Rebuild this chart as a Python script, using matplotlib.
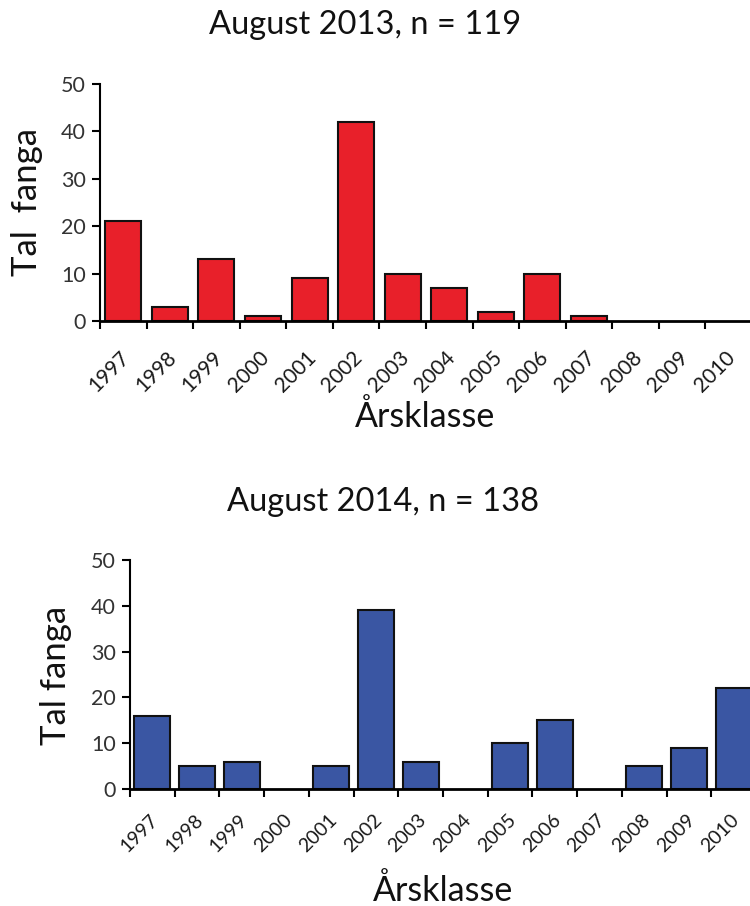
import matplotlib
matplotlib.use("Agg")
import matplotlib.pyplot as plt
import matplotlib.transforms as mtransforms
import numpy as np

plt.rcParams['font.family'] = ['Lato', 'DejaVu Sans']

years = ['1997', '1998', '1999', '2000', '2001', '2002', '2003',
         '2004', '2005', '2006', '2007', '2008', '2009', '2010']
counts_2013 = [21, 3, 13, 1, 9, 42, 10, 7, 2, 10, 1, 0, 0, 0]
counts_2014 = [16, 5, 6, 0, 5, 39, 6, 0, 10, 15, 0, 5, 9, 22]
title_2013 = 'August 2013, n = 119'
title_2014 = 'August 2014, n = 138'
ylabel_2013 = 'Tal  fanga'
ylabel_2014 = 'Tal fanga'
xlabel = 'Årsklasse'
yticks = [0, 10, 20, 30, 40, 50]

W, H = 750, 906
fig = plt.figure(figsize=(W / 100, H / 100), dpi=100)

def px_axes(x0, x1, ytop, ybot):
    return fig.add_axes([x0 / W, 1 - ybot / H, (x1 - x0) / W, (ybot - ytop) / H])

def draw(ax, values, color, width, pad, fs, dx):
    x = np.arange(len(years))
    bars = ax.bar(x, values, width=width, color=color, edgecolor='#111111',
                  linewidth=1.5, zorder=3)
    for b, v in zip(bars, values):
        if v == 0:
            b.set_visible(False)
    ax.set_xlim(-0.5, len(years) - 0.5)
    ax.set_ylim(0, 50)
    ax.set_yticks(yticks)
    ax.set_yticklabels([str(v) for v in yticks], fontsize=15.5, color='#333333')
    ax.set_xticks(x)
    ax.set_xticklabels(years, rotation=45, ha='right', rotation_mode='anchor',
                       fontsize=fs, color='#1a1a1a')
    ax.tick_params(axis='x', which='major', length=0, pad=pad)
    ax.set_xticks(np.arange(-0.5, len(years) + 0.5, 1), minor=True)
    ax.tick_params(axis='x', which='minor', length=6, width=1.5, direction='out')
    ax.tick_params(axis='y', length=6, width=1.5, direction='out', pad=4)
    off = mtransforms.ScaledTranslation(dx / 100, 0, fig.dpi_scale_trans)
    for lab in ax.get_xticklabels():
        lab.set_transform(lab.get_transform() + off)
    for s in ['top', 'right']:
        ax.spines[s].set_visible(False)
    ax.spines['left'].set_linewidth(1.5)
    ax.spines['bottom'].set_linewidth(2.0)
    ax.spines['bottom'].set_zorder(4)

ax1 = px_axes(100, 752, 84, 321)
draw(ax1, counts_2013, '#E8202A', 0.77, 19, 15, -4)
ax2 = px_axes(130, 756, 560, 789)
draw(ax2, counts_2014, '#3A56A3', 0.81, 16, 14, -3)

fig.text(365 / W, 1 - 25 / H, title_2013, ha='center', va='center', fontsize=23.5, color='#111111')
fig.text(383 / W, 1 - 502 / H, title_2014, ha='center', va='center', fontsize=23.5, color='#111111')
fig.text(27 / W, 1 - 202 / H, ylabel_2013, ha='center', va='center', rotation=90, fontsize=25, color='#111111')
fig.text(56 / W, 1 - 675 / H, ylabel_2014, ha='center', va='center', rotation=90, fontsize=25, color='#111111')
fig.text(425 / W, 1 - 427 / H, xlabel, ha='center', va='baseline', fontsize=24.5, color='#111111')
fig.text(443 / W, 1 - 901 / H, xlabel, ha='center', va='baseline', fontsize=24.5, color='#111111')

fig.savefig('out.png', dpi=100)
